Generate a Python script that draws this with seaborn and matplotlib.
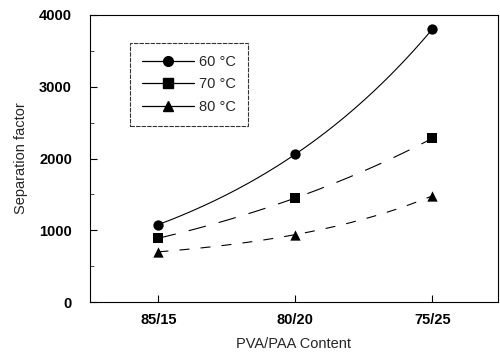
import numpy as np
import pandas as pd
import matplotlib
matplotlib.use("Agg")
import matplotlib.pyplot as plt
from matplotlib.lines import Line2D
from matplotlib.ticker import MultipleLocator
import seaborn as sns

categories = ["85/15", "80/20", "75/25"]
temps = ["60 °C", "70 °C", "80 °C"]
sep_60 = [1080, 2060, 3800]
sep_70 = [890, 1450, 2280]
sep_80 = [700, 940, 1480]
y_ticks = [0, 1000, 2000, 3000, 4000]

sns.set_theme(style="white")
plt.rcParams['font.family'] = ['Liberation Sans', 'DejaVu Sans']

fig = plt.figure(figsize=(5, 3.55), dpi=100)
ax = fig.add_axes([0.18, 0.149, 0.816, 0.809])

series = [sep_60, sep_70, sep_80]
markers = ["o", "s", "^"]
styles = ["-", (0, (16, 12)), (0, (9, 10))]
xs = np.arange(len(categories))

handles = []
for vals, mk, ls, lab in zip(series, markers, styles, temps):
    # smooth curve through the points (quadratic in log space)
    coef = np.polyfit(xs, np.log(vals), 2)
    xf = np.linspace(0, 2, 200)
    yf = np.exp(np.polyval(coef, xf))
    sns.lineplot(x=xf, y=yf, ax=ax, color="black", lw=0.8, linestyle=ls, legend=False)
    sns.scatterplot(x=xs, y=vals, ax=ax, marker=mk, color="black", s=55,
                    edgecolor="black", linewidth=0, zorder=3, legend=False)
    handles.append(Line2D([], [], color="black", lw=0.9, marker=mk, markersize=7, label=lab))

ax.set_xlim(-0.5, 2.48)
ax.set_ylim(0, 4000)
ax.set_xticks(xs)
ax.set_xticklabels(categories)
ax.set_yticks(y_ticks)
ax.yaxis.set_minor_locator(MultipleLocator(500))
ax.tick_params(axis="both", which="major", direction="in", length=5, width=0.8,
               labelsize=10.5, colors="black")
ax.tick_params(axis="x", pad=8)
ax.tick_params(axis="y", pad=13)
ax.tick_params(axis="y", which="minor", direction="in", length=3, width=0.6, left=True)
ax.tick_params(axis="x", bottom=True, top=False)
ax.tick_params(axis="y", left=True, right=False)
for lbl in ax.get_xticklabels() + ax.get_yticklabels():
    lbl.set_fontweight("bold")
for sp in ax.spines.values():
    sp.set_color("black")
    sp.set_linewidth(0.8)

ax.set_xlabel("PVA/PAA Content", fontsize=10.5, labelpad=7)
ax.set_ylabel("Separation factor", fontsize=10.5, labelpad=8)

leg = ax.legend(handles=handles, loc="upper left", bbox_to_anchor=(0.098, 0.902),
                borderaxespad=0, frameon=True, fancybox=False, edgecolor="black",
                fontsize=10.5, handlelength=3.6, borderpad=0.8, labelspacing=0.6,
                handletextpad=0.35)
leg.get_frame().set_linewidth(0.8)
leg.get_frame().set_linestyle((0, (4, 1)))

fig.savefig("out.png", dpi=100)
